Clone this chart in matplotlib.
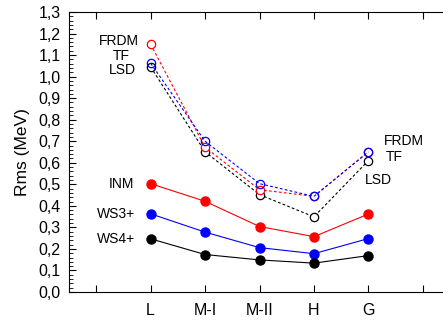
import numpy as np
import matplotlib.pyplot as plt
from matplotlib.ticker import MultipleLocator, FuncFormatter

plt.rcParams['font.family'] = ['Liberation Sans', 'DejaVu Sans']

cats = ["L", "M-I", "M-II", "H", "G"]
xpos = [1, 2, 3, 4, 5]

# open symbols, dashed
frdm = [1.15, 0.672, 0.475, 0.444, 0.651]
tf = [1.062, 0.700, 0.503, 0.444, 0.651]
lsd = [1.045, 0.651, 0.452, 0.349, 0.610]

# filled symbols, solid
inm = [0.503, 0.421, 0.304, 0.257, 0.362]
ws3 = [0.363, 0.278, 0.206, 0.178, 0.248]
ws4 = [0.247, 0.174, 0.149, 0.134, 0.169]

fig = plt.figure(figsize=(4.43, 3.23), dpi=100)
ax = fig.add_axes([69/443, 31/323, 381/443, 280/323])

ax.plot(xpos, lsd, linestyle=(0, (2.5, 2)), color='k', lw=0.8, marker='o',
        mfc='white', mec='k', ms=6, mew=0.9)
ax.plot(xpos, frdm, linestyle=(0, (2.5, 2)), color='r', lw=0.8, marker='o',
        mfc='white', mec='r', ms=6, mew=0.9)
ax.plot(xpos, tf, linestyle=(0, (2.5, 2)), color='b', lw=0.8, marker='o',
        mfc='none', mec='b', ms=6, mew=0.9)

ax.plot(xpos, inm, '-', color='r', lw=0.8, marker='o', ms=6.5)
ax.plot(xpos, ws3, '-', color='b', lw=0.8, marker='o', ms=6.5)
ax.plot(xpos, ws4, '-', color='k', lw=0.8, marker='o', ms=6.5)

fs = 10
ax.text(0.78, 1.165, "FRDM", ha='right', va='center', fontsize=fs)
ax.text(0.46, 1.095, "TF", ha='center', va='center', fontsize=fs)
ax.text(0.48, 1.031, "LSD", ha='center', va='center', fontsize=fs)
ax.text(0.70, 0.503, "INM", ha='right', va='center', fontsize=fs)
ax.text(0.72, 0.36, "WS3+", ha='right', va='center', fontsize=fs)
ax.text(0.72, 0.245, "WS4+", ha='right', va='center', fontsize=fs)
ax.text(5.29, 0.699, "FRDM", ha='left', va='center', fontsize=fs)
ax.text(5.48, 0.629, "TF", ha='center', va='center', fontsize=fs)
ax.text(4.93, 0.522, "LSD", ha='left', va='center', fontsize=fs)

ax.set_xlim(-0.5, 6.5)
ax.set_ylim(0, 1.3)
ax.set_xticks(range(0, 7))
ax.set_xticklabels([""] + cats + [""])
ax.yaxis.set_major_locator(MultipleLocator(0.1))
ax.yaxis.set_minor_locator(MultipleLocator(0.02))
ax.yaxis.set_major_formatter(FuncFormatter(lambda v, p: f"{v:.1f}".replace(".", ",")))
ax.tick_params(axis='both', which='both', direction='in', top=True, labelsize=11.5)
ax.tick_params(axis='both', which='major', length=5, width=0.8)
ax.tick_params(axis='y', which='minor', length=3, width=0.6)
ax.tick_params(axis='x', pad=8)
ax.tick_params(axis='y', pad=6)
ax.spines['right'].set_visible(False)
ax.set_ylabel("Rms (MeV)", fontsize=12.5, labelpad=6)

plt.savefig("out.png", dpi=100)
